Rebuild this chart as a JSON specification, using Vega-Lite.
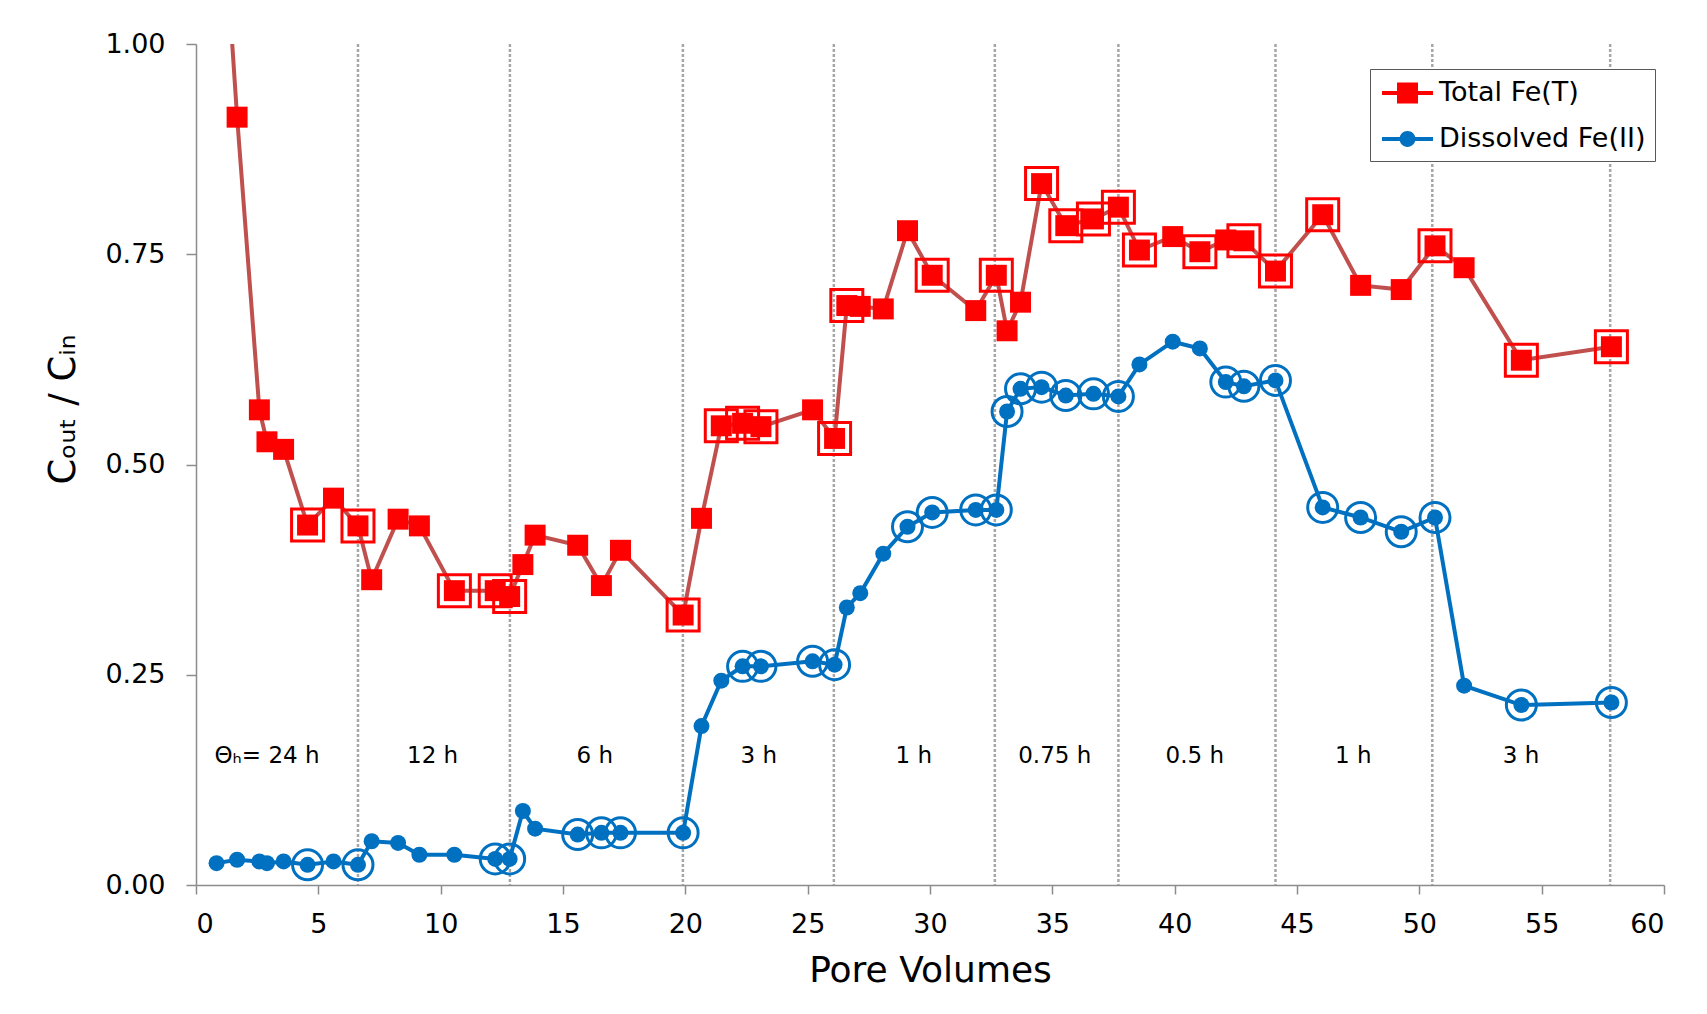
{
  "$schema": "https://vega.github.io/schema/vega-lite/v6.json",
  "width": 1468,
  "height": 841,
  "autosize": {"type": "none"},
  "padding": {"left": 196, "top": 44, "right": 43, "bottom": 129},
  "background": "white",
  "config": {"font": "DejaVu Sans", "view": {"stroke": null}},
  "datasets": {
    "fe": [
      {"pv": 0.84, "c": 1.28, "s": "Total Fe(T)", "ring": 0},
      {"pv": 1.68, "c": 0.913, "s": "Total Fe(T)", "ring": 0},
      {"pv": 2.59, "c": 0.565, "s": "Total Fe(T)", "ring": 0},
      {"pv": 2.90, "c": 0.527, "s": "Total Fe(T)", "ring": 0},
      {"pv": 3.58, "c": 0.518, "s": "Total Fe(T)", "ring": 0},
      {"pv": 4.56, "c": 0.428, "s": "Total Fe(T)", "ring": 1},
      {"pv": 5.62, "c": 0.460, "s": "Total Fe(T)", "ring": 0},
      {"pv": 6.62, "c": 0.427, "s": "Total Fe(T)", "ring": 1},
      {"pv": 7.18, "c": 0.363, "s": "Total Fe(T)", "ring": 0},
      {"pv": 8.26, "c": 0.435, "s": "Total Fe(T)", "ring": 0},
      {"pv": 9.13, "c": 0.427, "s": "Total Fe(T)", "ring": 0},
      {"pv": 10.56, "c": 0.350, "s": "Total Fe(T)", "ring": 1},
      {"pv": 12.23, "c": 0.350, "s": "Total Fe(T)", "ring": 1},
      {"pv": 12.82, "c": 0.343, "s": "Total Fe(T)", "ring": 1},
      {"pv": 13.36, "c": 0.381, "s": "Total Fe(T)", "ring": 0},
      {"pv": 13.86, "c": 0.416, "s": "Total Fe(T)", "ring": 0},
      {"pv": 15.60, "c": 0.404, "s": "Total Fe(T)", "ring": 0},
      {"pv": 16.57, "c": 0.356, "s": "Total Fe(T)", "ring": 0},
      {"pv": 17.35, "c": 0.398, "s": "Total Fe(T)", "ring": 0},
      {"pv": 19.91, "c": 0.321, "s": "Total Fe(T)", "ring": 1},
      {"pv": 20.66, "c": 0.436, "s": "Total Fe(T)", "ring": 0},
      {"pv": 21.47, "c": 0.546, "s": "Total Fe(T)", "ring": 1},
      {"pv": 22.34, "c": 0.549, "s": "Total Fe(T)", "ring": 1},
      {"pv": 23.09, "c": 0.545, "s": "Total Fe(T)", "ring": 1},
      {"pv": 25.20, "c": 0.565, "s": "Total Fe(T)", "ring": 0},
      {"pv": 26.10, "c": 0.531, "s": "Total Fe(T)", "ring": 1},
      {"pv": 26.60, "c": 0.689, "s": "Total Fe(T)", "ring": 1},
      {"pv": 27.15, "c": 0.688, "s": "Total Fe(T)", "ring": 0},
      {"pv": 28.09, "c": 0.685, "s": "Total Fe(T)", "ring": 0},
      {"pv": 29.08, "c": 0.778, "s": "Total Fe(T)", "ring": 0},
      {"pv": 30.09, "c": 0.725, "s": "Total Fe(T)", "ring": 1},
      {"pv": 31.87, "c": 0.683, "s": "Total Fe(T)", "ring": 0},
      {"pv": 32.71, "c": 0.725, "s": "Total Fe(T)", "ring": 1},
      {"pv": 33.15, "c": 0.659, "s": "Total Fe(T)", "ring": 0},
      {"pv": 33.70, "c": 0.693, "s": "Total Fe(T)", "ring": 0},
      {"pv": 34.56, "c": 0.834, "s": "Total Fe(T)", "ring": 1},
      {"pv": 35.55, "c": 0.784, "s": "Total Fe(T)", "ring": 1},
      {"pv": 36.68, "c": 0.792, "s": "Total Fe(T)", "ring": 1},
      {"pv": 37.70, "c": 0.806, "s": "Total Fe(T)", "ring": 1},
      {"pv": 38.56, "c": 0.755, "s": "Total Fe(T)", "ring": 1},
      {"pv": 39.92, "c": 0.771, "s": "Total Fe(T)", "ring": 0},
      {"pv": 41.03, "c": 0.753, "s": "Total Fe(T)", "ring": 1},
      {"pv": 42.09, "c": 0.767, "s": "Total Fe(T)", "ring": 0},
      {"pv": 42.83, "c": 0.766, "s": "Total Fe(T)", "ring": 1},
      {"pv": 44.12, "c": 0.730, "s": "Total Fe(T)", "ring": 1},
      {"pv": 46.05, "c": 0.797, "s": "Total Fe(T)", "ring": 1},
      {"pv": 47.60, "c": 0.713, "s": "Total Fe(T)", "ring": 0},
      {"pv": 49.26, "c": 0.708, "s": "Total Fe(T)", "ring": 0},
      {"pv": 50.64, "c": 0.760, "s": "Total Fe(T)", "ring": 1},
      {"pv": 51.83, "c": 0.734, "s": "Total Fe(T)", "ring": 0},
      {"pv": 54.17, "c": 0.624, "s": "Total Fe(T)", "ring": 1},
      {"pv": 57.85, "c": 0.640, "s": "Total Fe(T)", "ring": 1},
      {"pv": 0.84, "c": 0.026, "s": "Dissolved Fe(II)", "ring": 0},
      {"pv": 1.68, "c": 0.030, "s": "Dissolved Fe(II)", "ring": 0},
      {"pv": 2.59, "c": 0.028, "s": "Dissolved Fe(II)", "ring": 0},
      {"pv": 2.90, "c": 0.026, "s": "Dissolved Fe(II)", "ring": 0},
      {"pv": 3.58, "c": 0.028, "s": "Dissolved Fe(II)", "ring": 0},
      {"pv": 4.56, "c": 0.024, "s": "Dissolved Fe(II)", "ring": 1},
      {"pv": 5.62, "c": 0.028, "s": "Dissolved Fe(II)", "ring": 0},
      {"pv": 6.62, "c": 0.024, "s": "Dissolved Fe(II)", "ring": 1},
      {"pv": 7.18, "c": 0.052, "s": "Dissolved Fe(II)", "ring": 0},
      {"pv": 8.26, "c": 0.050, "s": "Dissolved Fe(II)", "ring": 0},
      {"pv": 9.13, "c": 0.036, "s": "Dissolved Fe(II)", "ring": 0},
      {"pv": 10.56, "c": 0.036, "s": "Dissolved Fe(II)", "ring": 0},
      {"pv": 12.23, "c": 0.031, "s": "Dissolved Fe(II)", "ring": 1},
      {"pv": 12.82, "c": 0.031, "s": "Dissolved Fe(II)", "ring": 1},
      {"pv": 13.36, "c": 0.088, "s": "Dissolved Fe(II)", "ring": 0},
      {"pv": 13.86, "c": 0.067, "s": "Dissolved Fe(II)", "ring": 0},
      {"pv": 15.60, "c": 0.060, "s": "Dissolved Fe(II)", "ring": 1},
      {"pv": 16.57, "c": 0.062, "s": "Dissolved Fe(II)", "ring": 1},
      {"pv": 17.35, "c": 0.062, "s": "Dissolved Fe(II)", "ring": 1},
      {"pv": 19.91, "c": 0.062, "s": "Dissolved Fe(II)", "ring": 1},
      {"pv": 20.66, "c": 0.189, "s": "Dissolved Fe(II)", "ring": 0},
      {"pv": 21.47, "c": 0.243, "s": "Dissolved Fe(II)", "ring": 0},
      {"pv": 22.34, "c": 0.260, "s": "Dissolved Fe(II)", "ring": 1},
      {"pv": 23.09, "c": 0.260, "s": "Dissolved Fe(II)", "ring": 1},
      {"pv": 25.20, "c": 0.266, "s": "Dissolved Fe(II)", "ring": 1},
      {"pv": 26.10, "c": 0.262, "s": "Dissolved Fe(II)", "ring": 1},
      {"pv": 26.60, "c": 0.330, "s": "Dissolved Fe(II)", "ring": 0},
      {"pv": 27.15, "c": 0.347, "s": "Dissolved Fe(II)", "ring": 0},
      {"pv": 28.09, "c": 0.394, "s": "Dissolved Fe(II)", "ring": 0},
      {"pv": 29.08, "c": 0.426, "s": "Dissolved Fe(II)", "ring": 1},
      {"pv": 30.09, "c": 0.443, "s": "Dissolved Fe(II)", "ring": 1},
      {"pv": 31.87, "c": 0.446, "s": "Dissolved Fe(II)", "ring": 1},
      {"pv": 32.71, "c": 0.446, "s": "Dissolved Fe(II)", "ring": 1},
      {"pv": 33.15, "c": 0.563, "s": "Dissolved Fe(II)", "ring": 1},
      {"pv": 33.70, "c": 0.590, "s": "Dissolved Fe(II)", "ring": 1},
      {"pv": 34.56, "c": 0.592, "s": "Dissolved Fe(II)", "ring": 1},
      {"pv": 35.55, "c": 0.582, "s": "Dissolved Fe(II)", "ring": 1},
      {"pv": 36.68, "c": 0.584, "s": "Dissolved Fe(II)", "ring": 1},
      {"pv": 37.70, "c": 0.581, "s": "Dissolved Fe(II)", "ring": 1},
      {"pv": 38.56, "c": 0.619, "s": "Dissolved Fe(II)", "ring": 0},
      {"pv": 39.92, "c": 0.646, "s": "Dissolved Fe(II)", "ring": 0},
      {"pv": 41.03, "c": 0.638, "s": "Dissolved Fe(II)", "ring": 0},
      {"pv": 42.09, "c": 0.598, "s": "Dissolved Fe(II)", "ring": 1},
      {"pv": 42.83, "c": 0.593, "s": "Dissolved Fe(II)", "ring": 1},
      {"pv": 44.12, "c": 0.600, "s": "Dissolved Fe(II)", "ring": 1},
      {"pv": 46.05, "c": 0.449, "s": "Dissolved Fe(II)", "ring": 1},
      {"pv": 47.60, "c": 0.437, "s": "Dissolved Fe(II)", "ring": 1},
      {"pv": 49.26, "c": 0.420, "s": "Dissolved Fe(II)", "ring": 1},
      {"pv": 50.64, "c": 0.437, "s": "Dissolved Fe(II)", "ring": 1},
      {"pv": 51.83, "c": 0.237, "s": "Dissolved Fe(II)", "ring": 0},
      {"pv": 54.17, "c": 0.214, "s": "Dissolved Fe(II)", "ring": 1},
      {"pv": 57.85, "c": 0.217, "s": "Dissolved Fe(II)", "ring": 1}
    ],
    "phases": [
      {"pv": 6.62}, {"pv": 12.83}, {"pv": 19.9}, {"pv": 26.07}, {"pv": 32.65},
      {"pv": 37.7}, {"pv": 44.12}, {"pv": 50.53}, {"pv": 57.8}
    ],
    "labels": [
      {"pv": 2.9, "c": 0.153, "txt": "Θₕ= 24 h"},
      {"pv": 9.67, "c": 0.153, "txt": "12 h"},
      {"pv": 16.3, "c": 0.153, "txt": "6 h"},
      {"pv": 23.0, "c": 0.153, "txt": "3 h"},
      {"pv": 29.34, "c": 0.153, "txt": "1 h"},
      {"pv": 35.1, "c": 0.153, "txt": "0.75 h"},
      {"pv": 40.82, "c": 0.153, "txt": "0.5 h"},
      {"pv": 47.3, "c": 0.153, "txt": "1 h"},
      {"pv": 54.16, "c": 0.153, "txt": "3 h"}
    ],
    "series": [
      {"pv": 0.84, "c": 1.28, "s": "Total Fe(T)"},
      {"pv": 0.84, "c": 1.28, "s": "Dissolved Fe(II)"}
    ]
  },
  "encoding": {
    "x": {
      "field": "pv", "type": "quantitative",
      "scale": {"domain": [0, 60], "nice": false, "zero": false},
      "axis": {
        "title": "Pore Volumes", "values": [0,5,10,15,20,25,30,35,40,45,50,55,60], "format": "d",
        "grid": false, "domainColor": "#8c8c8c", "domainWidth": 1.5, "tickColor": "#8c8c8c", "tickWidth": 1.5,
        "tickSize": 9, "labelFontSize": 27, "labelColor": "#000000", "labelPadding": 17,
        "titleFontSize": 36, "titleFontWeight": "normal", "titleColor": "#000000", "titlePadding": 16
      }
    }
  },
  "layer": [
    {
      "data": {"name": "phases"},
      "mark": {"type": "rule", "color": "#a6a6a6", "strokeWidth": 2.5, "strokeDash": [3, 2]},
      "encoding": {}
    },
    {
      "data": {"name": "labels"},
      "mark": {"type": "text", "fontSize": 23, "align": "center", "baseline": "middle", "color": "#000000"},
      "encoding": {
        "y": {"field": "c", "type": "quantitative", "scale": {"domain": [0, 1], "nice": false},
          "axis": {
            "title": "Cₒᵤₜ / Cᵢₙ", "values": [0, 0.25, 0.5, 0.75, 1], "format": ".2f", "grid": false,
            "domainColor": "#8c8c8c", "domainWidth": 1.5, "tickColor": "#8c8c8c", "tickWidth": 1.5, "tickSize": 10,
            "labelFontSize": 27, "labelColor": "#000000", "labelPadding": 21,
            "titleFontSize": 37, "titleFontWeight": "normal", "titleColor": "#000000",
            "titleX": -133, "titleY": 365, "titleBaseline": "middle", "titleAlign": "center", "titleAngle": -90
          }},
        "text": {"field": "txt"}
      }
    },
    {
      "data": {"name": "fe"},
      "transform": [{"filter": "datum.s === 'Total Fe(T)'"}],
      "mark": {"type": "line", "color": "#c0504d", "strokeWidth": 4, "clip": true},
      "encoding": {"y": {"field": "c", "type": "quantitative", "title": "Cₒᵤₜ / Cᵢₙ"}}
    },
    {
      "data": {"name": "fe"},
      "transform": [{"filter": "datum.s === 'Dissolved Fe(II)'"}],
      "mark": {"type": "line", "color": "#0070c0", "strokeWidth": 4, "clip": true},
      "encoding": {"y": {"field": "c", "type": "quantitative", "title": "Cₒᵤₜ / Cᵢₙ"}}
    },
    {
      "data": {"name": "fe"},
      "transform": [{"filter": "datum.s === 'Total Fe(T)' && datum.ring === 1"}],
      "mark": {"type": "point", "shape": "square", "filled": false, "color": "#ff0000", "strokeWidth": 3, "size": 1024, "opacity": 1, "clip": true},
      "encoding": {"y": {"field": "c", "type": "quantitative", "title": "Cₒᵤₜ / Cᵢₙ"}}
    },
    {
      "data": {"name": "fe"},
      "transform": [{"filter": "datum.s === 'Dissolved Fe(II)' && datum.ring === 1"}],
      "mark": {"type": "point", "shape": "circle", "filled": false, "color": "#0070c0", "strokeWidth": 3, "size": 900, "opacity": 1, "clip": true},
      "encoding": {"y": {"field": "c", "type": "quantitative", "title": "Cₒᵤₜ / Cᵢₙ"}}
    },
    {
      "data": {"name": "fe"},
      "transform": [{"filter": "datum.s === 'Total Fe(T)'"}],
      "mark": {"type": "point", "shape": "square", "filled": true, "color": "#ff0000", "size": 440, "opacity": 1, "strokeWidth": 0, "clip": true},
      "encoding": {"y": {"field": "c", "type": "quantitative", "title": "Cₒᵤₜ / Cᵢₙ"}}
    },
    {
      "data": {"name": "fe"},
      "transform": [{"filter": "datum.s === 'Dissolved Fe(II)'"}],
      "mark": {"type": "point", "shape": "circle", "filled": true, "color": "#0070c0", "size": 256, "opacity": 1, "strokeWidth": 0, "clip": true},
      "encoding": {"y": {"field": "c", "type": "quantitative", "title": "Cₒᵤₜ / Cᵢₙ"}}
    },
    {
      "data": {"name": "series"},
      "mark": {"type": "point", "filled": true, "opacity": 0, "clip": true},
      "encoding": {
        "y": {"field": "c", "type": "quantitative", "title": "Cₒᵤₜ / Cᵢₙ"},
        "color": {
          "field": "s", "type": "nominal",
          "scale": {"domain": ["Total Fe(T)", "Dissolved Fe(II)"], "range": ["#ff0000", "#0070c0"]},
          "legend": {
            "title": null, "orient": "none", "legendX": 1174, "legendY": 25,
            "padding": 9, "rowPadding": 18, "symbolSize": 900, "symbolOpacity": 1, "symbolStrokeWidth": 0,
            "labelFontSize": 27, "labelColor": "#000000", "labelOffset": 30, "labelLimit": 400,
            "strokeColor": "#595959", "fillColor": "#ffffff"
          }
        },
        "shape": {
          "field": "s", "type": "nominal",
          "scale": {
            "domain": ["Total Fe(T)", "Dissolved Fe(II)"],
            "range": [
              "M-0.8,-0.13H2.6V0.13H-0.8Z M0.2,-0.7H1.6V0.7H0.2Z",
              "M-0.8,-0.13H2.6V0.13H-0.8Z M1.43,0A0.53,0.53 0 1,1 0.37,0A0.53,0.53 0 1,1 1.43,0Z"
            ]
          },
          "legend": {
            "title": null, "orient": "none", "legendX": 1174, "legendY": 25,
            "padding": 9, "rowPadding": 18, "symbolSize": 900, "symbolOpacity": 1, "symbolStrokeWidth": 0,
            "labelFontSize": 27, "labelColor": "#000000", "labelOffset": 30, "labelLimit": 400,
            "strokeColor": "#595959", "fillColor": "#ffffff"
          }
        }
      }
    }
  ]
}
